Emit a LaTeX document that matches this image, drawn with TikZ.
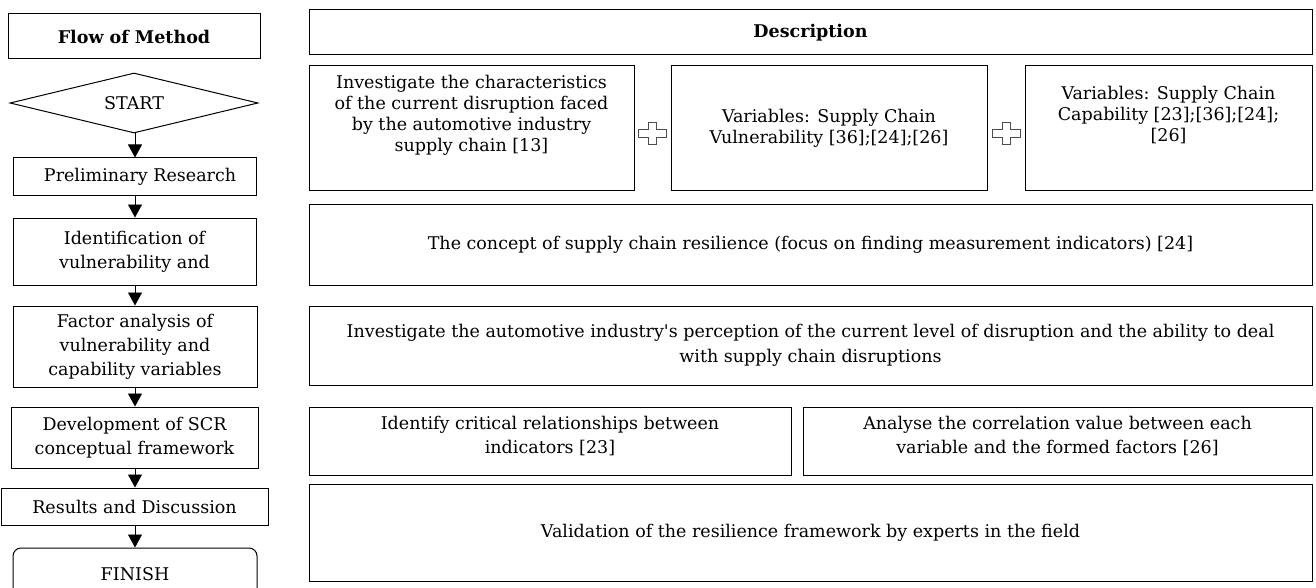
\documentclass[tikz,border=0pt]{standalone}
\usepackage{fontspec}
\setmainfont{DejaVu Serif}
\usetikzlibrary{arrows.meta, positioning, calc, shapes.geometric}

% outlined cross between two boxes
\newcommand{\plusmark}[1]{%
  \draw[black!70, line width=0.8pt, fill=white] (#1) ++(-4,-11) -- ++(8,0) -- ++(0,7)
    -- ++(10,0) -- ++(0,8) -- ++(-10,0) -- ++(0,7) -- ++(-8,0) -- ++(0,-7)
    -- ++(-10,0) -- ++(0,-8) -- ++(10,0) -- cycle;}

\begin{document}
\begin{tikzpicture}[x=1pt, y=-1pt,
    box/.style={draw, line width=1pt, align=center, inner sep=0pt,
        font=\fontsize{17.5}{21}\selectfont},
    widebox/.style={box, font=\fontsize{17.5}{24.5}\selectfont},
    stepbox/.style={box, font=\fontsize{17.5}{24}\selectfont},
    flowarrow/.style={line width=0.8pt, -{Triangle[width=14pt, length=13pt]}}]
    \useasboundingbox (0,0) rectangle (1316,588);

    % flow of method
    \node[box, minimum width=252pt, minimum height=45pt] (flow) at (134,36.5) {\textbf{Flow of Method}};
    \node[stepbox, diamond, aspect=4, minimum width=248pt, minimum height=60pt] (start) at (134,103) {START};
    \node[stepbox, minimum width=243pt, minimum height=37pt] (prelim) at (134.5,176.5) {~~Preliminary Research};
    \node[stepbox, minimum width=243pt, minimum height=67pt] (ident) at (134.5,251.5) {Identification of\\vulnerability and};
    \node[stepbox, minimum width=244pt, minimum height=81pt] (factor) at (135,346.5) {Factor analysis of\\vulnerability and\\capability variables};
    \node[stepbox, minimum width=247pt, minimum height=61pt] (devel) at (134.5,437.5) {Development of SCR\\conceptual framework};
    \node[stepbox, minimum width=267pt, minimum height=37pt] (results) at (134.5,506.5) {Results and Discussion};
    \node[stepbox, rounded corners=8pt, minimum width=244pt, minimum height=52pt] (finish) at (135,574) {FINISH};

    \foreach \a/\b in {start/prelim, prelim/ident, ident/factor, factor/devel, devel/results, results/finish}
        \draw[flowarrow] (\a.south -| 135,0) -- (\b.north -| 135,0);

    % description
    \node[box, minimum width=1003pt, minimum height=45pt] (desc) at (810.5,32.5) {\textbf{Description}};
    \node[box, minimum width=325pt, minimum height=125pt] (inv) at (471.5,128.5)
        {Investigate the characteristics\\of the current disruption faced\\by the automotive industry\\supply chain [13]\\[9pt]\mbox{}};
    \node[box, minimum width=316pt, minimum height=125pt] (vul) at (829,128.5)
        {Variables: Supply Chain\\Vulnerability [36];[24];[26]};
    \node[box, minimum width=287pt, minimum height=125pt] (cap) at (1168.5,128.5)
        {Variables: Supply Chain\\Capability [23];[36];[24];\\{[26]}\\[9pt]\mbox{}};
    \node[box, minimum width=1003pt, minimum height=81pt] (concept) at (810.5,244.5)
        {The concept of supply chain resilience (focus on finding measurement indicators) [24]};
    \node[widebox, minimum width=1003pt, minimum height=79pt] (percep) at (810.5,345.5)
        {Investigate the automotive industry\textquotesingle s perception of the current level of disruption and the ability to deal\\with supply chain disruptions};
    \node[widebox, minimum width=482pt, minimum height=68pt] (crit) at (550,441)
        {Identify critical relationships between\\indicators [23]\\[-12pt]\mbox{}};
    \node[widebox, minimum width=509pt, minimum height=68pt] (corr) at (1057.5,441)
        {Analyse the correlation value between each\\variable and the formed factors [26]\\[-12pt]\mbox{}};
    \node[box, minimum width=1003pt, minimum height=97pt] (valid) at (810.5,532.5)
        {Validation of the resilience framework by experts in the field};

    \coordinate (p1) at ($(inv.east)!0.5!(vul.west)+(0,5)$);
    \coordinate (p2) at ($(vul.east)!0.5!(cap.west)+(0,5)$);
    \plusmark{p1}
    \plusmark{p2}
\end{tikzpicture}
\end{document}
